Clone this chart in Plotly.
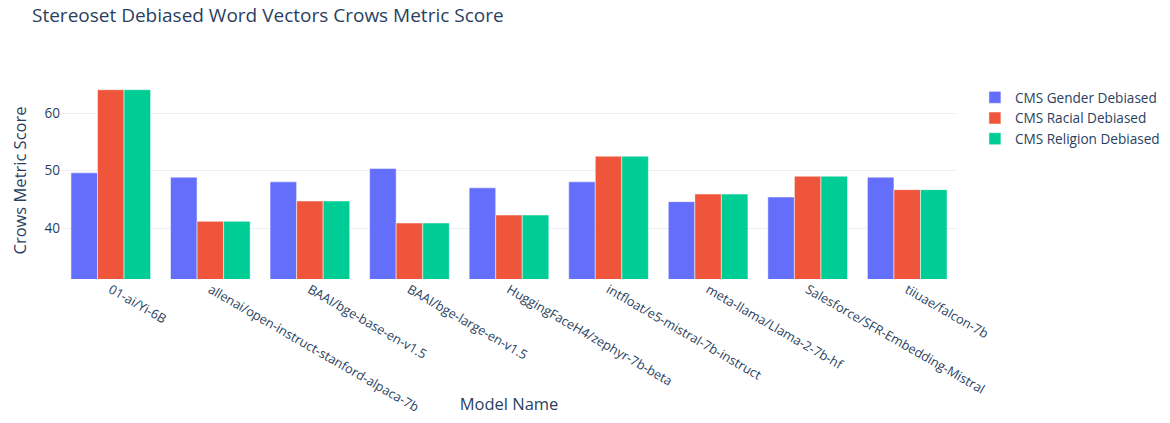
import plotly.graph_objects as go

# Datos
modelos = [
    "01-ai/Yi-6B",
    "allenai/open-instruct-stanford-alpaca-7b",
    "BAAI/bge-base-en-v1.5",
    "BAAI/bge-large-en-v1.5",
    "HuggingFaceH4/zephyr-7b-beta",
    "intfloat/e5-mistral-7b-instruct",
    "meta-llama/Llama-2-7b-hf",
    "Salesforce/SFR-Embedding-Mistral",
    "tiiuae/falcon-7b",
]
cms_gender = [49.6, 48.84, 48.03, 50.35, 46.99, 48.03, 44.58, 45.39, 48.84]
cms_racial = [64.06, 41.16, 44.7, 40.87, 42.26, 52.49, 45.91, 49.01, 46.67]
cms_religion = [64.06, 41.16, 44.7, 40.87, 42.26, 52.49, 45.91, 49.01, 46.67]

fig = go.Figure()
fig.add_trace(go.Bar(x=modelos, y=cms_gender, name="CMS Gender Debiased", marker_color="#636efa"))
fig.add_trace(go.Bar(x=modelos, y=cms_racial, name="CMS Racial Debiased", marker_color="#EF553B"))
fig.add_trace(go.Bar(x=modelos, y=cms_religion, name="CMS Religion Debiased", marker_color="#00cc96"))

# la página deja 8 px de margen en el body: la figura ocupa 1154x407
ancho, alto = 1154, 407

fig.update_layout(
    template="plotly_white",
    width=ancho,
    height=alto,
    barmode="group",
    font=dict(family="Open Sans", size=13.6),
    title=dict(
        text="Stereoset Debiased Word Vectors Crows Metric Score",
        font=dict(size=19),
        x=24 / ancho, xanchor="left",
        y=1 - 1 / alto, yanchor="top",
    ),
    margin=dict(l=53, r=205, t=74, b=136, autoexpand=False),
    xaxis=dict(title=dict(text="Model Name", font=dict(size=16.5)), tickangle=30,
               tickfont=dict(size=12.8), automargin=False),
    yaxis=dict(title=dict(text="Crows Metric Score", font=dict(size=16.5)),
               range=[31.13, 65.4], automargin=False),
)

fig.write_html("out.html")
